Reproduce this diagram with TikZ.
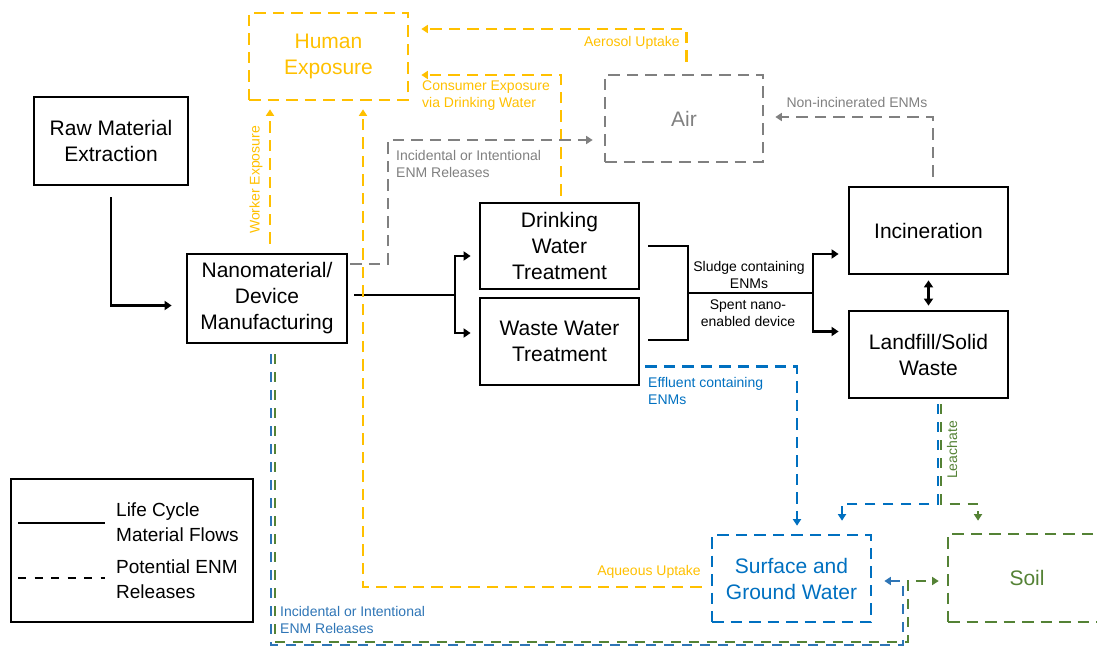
\documentclass[tikz,border=0pt]{standalone}
\usepackage{fontspec}
\setmainfont{Liberation Sans}
\usetikzlibrary{arrows.meta,calc}
\definecolor{ora}{HTML}{FFC000}
\definecolor{gra}{HTML}{808080}
\definecolor{blu}{HTML}{0070C0}
\definecolor{blu2}{HTML}{2E75B6}
\definecolor{grn}{HTML}{548235}
\begin{document}
\begin{tikzpicture}[x=1pt,y=-1pt,
  box/.style={draw, line width=2.8pt, minimum width=159pt, minimum height=87pt, inner sep=2pt, align=center, font=\fontsize{21}{26}\selectfont},
  dbox/.style={box, line width=2.6pt, dash pattern=on 11.5pt off 7pt},
  lab/.style={font=\fontsize{14}{17}\selectfont, inner sep=0pt, align=left},
  legtxt/.style={font=\fontsize{19}{25}\selectfont, inner sep=0pt, align=left},
  line/.style={line width=2.6pt},
  flow/.style={line width=2.6pt, -{Triangle[length=7pt,width=9pt]}},
  dsh/.style={line width=2.6pt, dash pattern=on 11.5pt off 7pt, -{Triangle[length=6.5pt,width=8pt]}},
  dbl/.style={line width=2pt, dash pattern=on 10pt off 8pt, -{Triangle[length=6.5pt,width=8pt]}}
]
\useasboundingbox (0,0) rectangle (1097,647);
\clip (0,0) rectangle (1097,647);

% boxes
\node[box] (raw) at (111,141) [minimum width=154pt, minimum height=88pt] {Raw Material\\Extraction};
\node[box] (nano) at (267,298.5) [minimum width=160pt, minimum height=89pt] {Nanomaterial/\\Device\\Manufacturing};
\node[dbox, draw=ora, text=ora] (human) at (328.5,56.5) {Human\\Exposure};
\node[dbox, draw=gra, text=gra] (air) at (684,118.5) [minimum width=158pt] {Air};
\node[box] (dwt) at (559.5,246) [minimum height=86pt] {Drinking\\Water\\Treatment};
\node[box] (wwt) at (559.5,341.5) {Waste Water\\Treatment};
\node[box] (inc) at (928.5,230.5) {Incineration};
\node[box] (land) at (928.5,354.5) {Landfill/Solid\\Waste};
\node[dbox, draw=blu, text=blu] (sgw) at (791.5,578.5) {Surface and\\Ground Water};
\node[dbox, draw=grn, text=grn] (soil) at (1027,578) [minimum width=158pt, minimum height=88pt] {Soil};

% black flows
\draw[flow] ($(raw.south)+(0,11)$) |- ($(nano.west)+(-14,7)$);
\coordinate (s1) at (455,295);
\draw[line] ($(nano.east)+(6,-3.5)$) -- (s1);
\draw[flow] (s1) |- ($(dwt.west)+(-8,10)$);
\draw[flow] (s1) |- ($(wwt.west)+(-8,-8.5)$);
\coordinate (j1) at (688,293);
\coordinate (s2) at (813,293);
\draw[line] ($(dwt.east)+(8,0)$) -| (j1);
\draw[line] ($(wwt.east)+(8,-1.5)$) -| (j1);
\draw[line] (j1) -- (s2);
\draw[flow] (s2) |- ($(inc.west)+(-9,23.5)$);
\draw[flow] (s2) |- ($(land.west)+(-9,-23)$);
\draw[line width=2.6pt, {Triangle[length=7pt,width=9pt]}-{Triangle[length=7pt,width=9pt]}] ($(inc.south)+(0,5)$) -- ($(land.north)+(0,-4)$);
\node[lab, align=center] (lsl) at (749,274.5) {Sludge containing\\ENMs};
\node[lab, align=center] (lsp) at (748,313.5) {Spent nano-\\enabled device};

% orange
\draw[dsh, color=ora] ($(nano.north)+(3,-9)$) -- ($(human.south)+(-58.5,8)$);
\node[lab, text=ora, rotate=90] (lwork) at (256,180) {Worker Exposure};
\draw[dsh, color=ora] ($(sgw.west)+(-9,8.5)$) -| ($(human.south)+(34.5,8)$);
\node[lab, text=ora, anchor=east] (laq) at (701,572) {Aqueous Uptake};
\draw[dsh, color=ora] ($(dwt.north)+(1.5,-6)$) |- ($(human.east)+(12,18.5)$);
\node[lab, text=ora, anchor=west] (lcon) at (422,96) {Consumer Exposure\\via Drinking Water};
\draw[dsh, color=ora] ($(air.north)+(2.5,-12)$) |- ($(human.east)+(12,-27.5)$);
\node[lab, text=ora, anchor=east] (laer) at (680,43) {Aerosol Uptake};

% gray
\coordinate (g1) at (388,140);
\draw[dsh, color=gra] ($(nano.east)+(2,-34.5)$) -| (g1) -- ($(air.west)+(-11,21.5)$);
\node[lab, text=gra, anchor=west] (linc) at (396,163.5) {Incidental or Intentional\\ENM Releases};
\draw[dsh, color=gra] ($(inc.north)+(4.5,-9)$) |- ($(air.east)+(11,-1.5)$);
\node[lab, text=gra] (lnon) at (857,102) {Non-incinerated ENMs};

% blue effluent
\draw[dsh, color=blu] ($(wwt.east)+(5,25)$) -| ($(sgw.north)+(5.5,-8)$);
\node[lab, text=blu, anchor=west] (leff) at (648,390.5) {Effluent containing\\ENMs};

% leachate double
\draw[dbl, color=blu] ($(land.south)+(9.5,5)$) |- ($(sgw.north)+(50.5,-30)$) -- ($(sgw.north)+(50.5,-13)$);
\draw[dbl, color=grn] ($(land.south)+(12.5,5)$) |- ($(soil.north)+(-49,-29)$) -- ($(soil.north)+(-49,-12)$);
\node[lab, text=grn, rotate=90] (lle) at (952,450) {Leachate};

% nano bottom double
\coordinate (b1) at (271,645);
\coordinate (b2) at (903,581);
\coordinate (c1) at (274.5,642);
\coordinate (c2) at (907.5,581);
\draw[dbl, color=blu2] ($(nano.south)+(4,10)$) -- (b1) -| (b2) -- ($(sgw.east)+(12,2.5)$);
\draw[dbl, color=grn] ($(nano.south)+(7.5,10)$) -- (c1) -| (c2) -- ($(soil.west)+(-8,3)$);
\node[lab, text=blu2, anchor=west] (lbot) at (280,619.5) {Incidental or Intentional\\ENM Releases};

% legend
\node[draw, line width=1.5pt, minimum width=242pt, minimum height=143pt, inner sep=0pt] (leg) at (132,550.5) {};
\coordinate (la) at (18,523);
\coordinate (lb) at (105,523);
\coordinate (lc) at (18,578);
\coordinate (ld) at (105,578);
\draw[line width=2.6pt] (la) -- (lb);
\draw[line width=2.6pt, dash pattern=on 8pt off 8.5pt] (lc) -- (ld);
\node[legtxt, anchor=west] (lt1) at (116,522.5) {Life Cycle\\Material Flows};
\node[legtxt, anchor=west] (lt2) at (116,579) {Potential ENM\\Releases};
\end{tikzpicture}
\end{document}
